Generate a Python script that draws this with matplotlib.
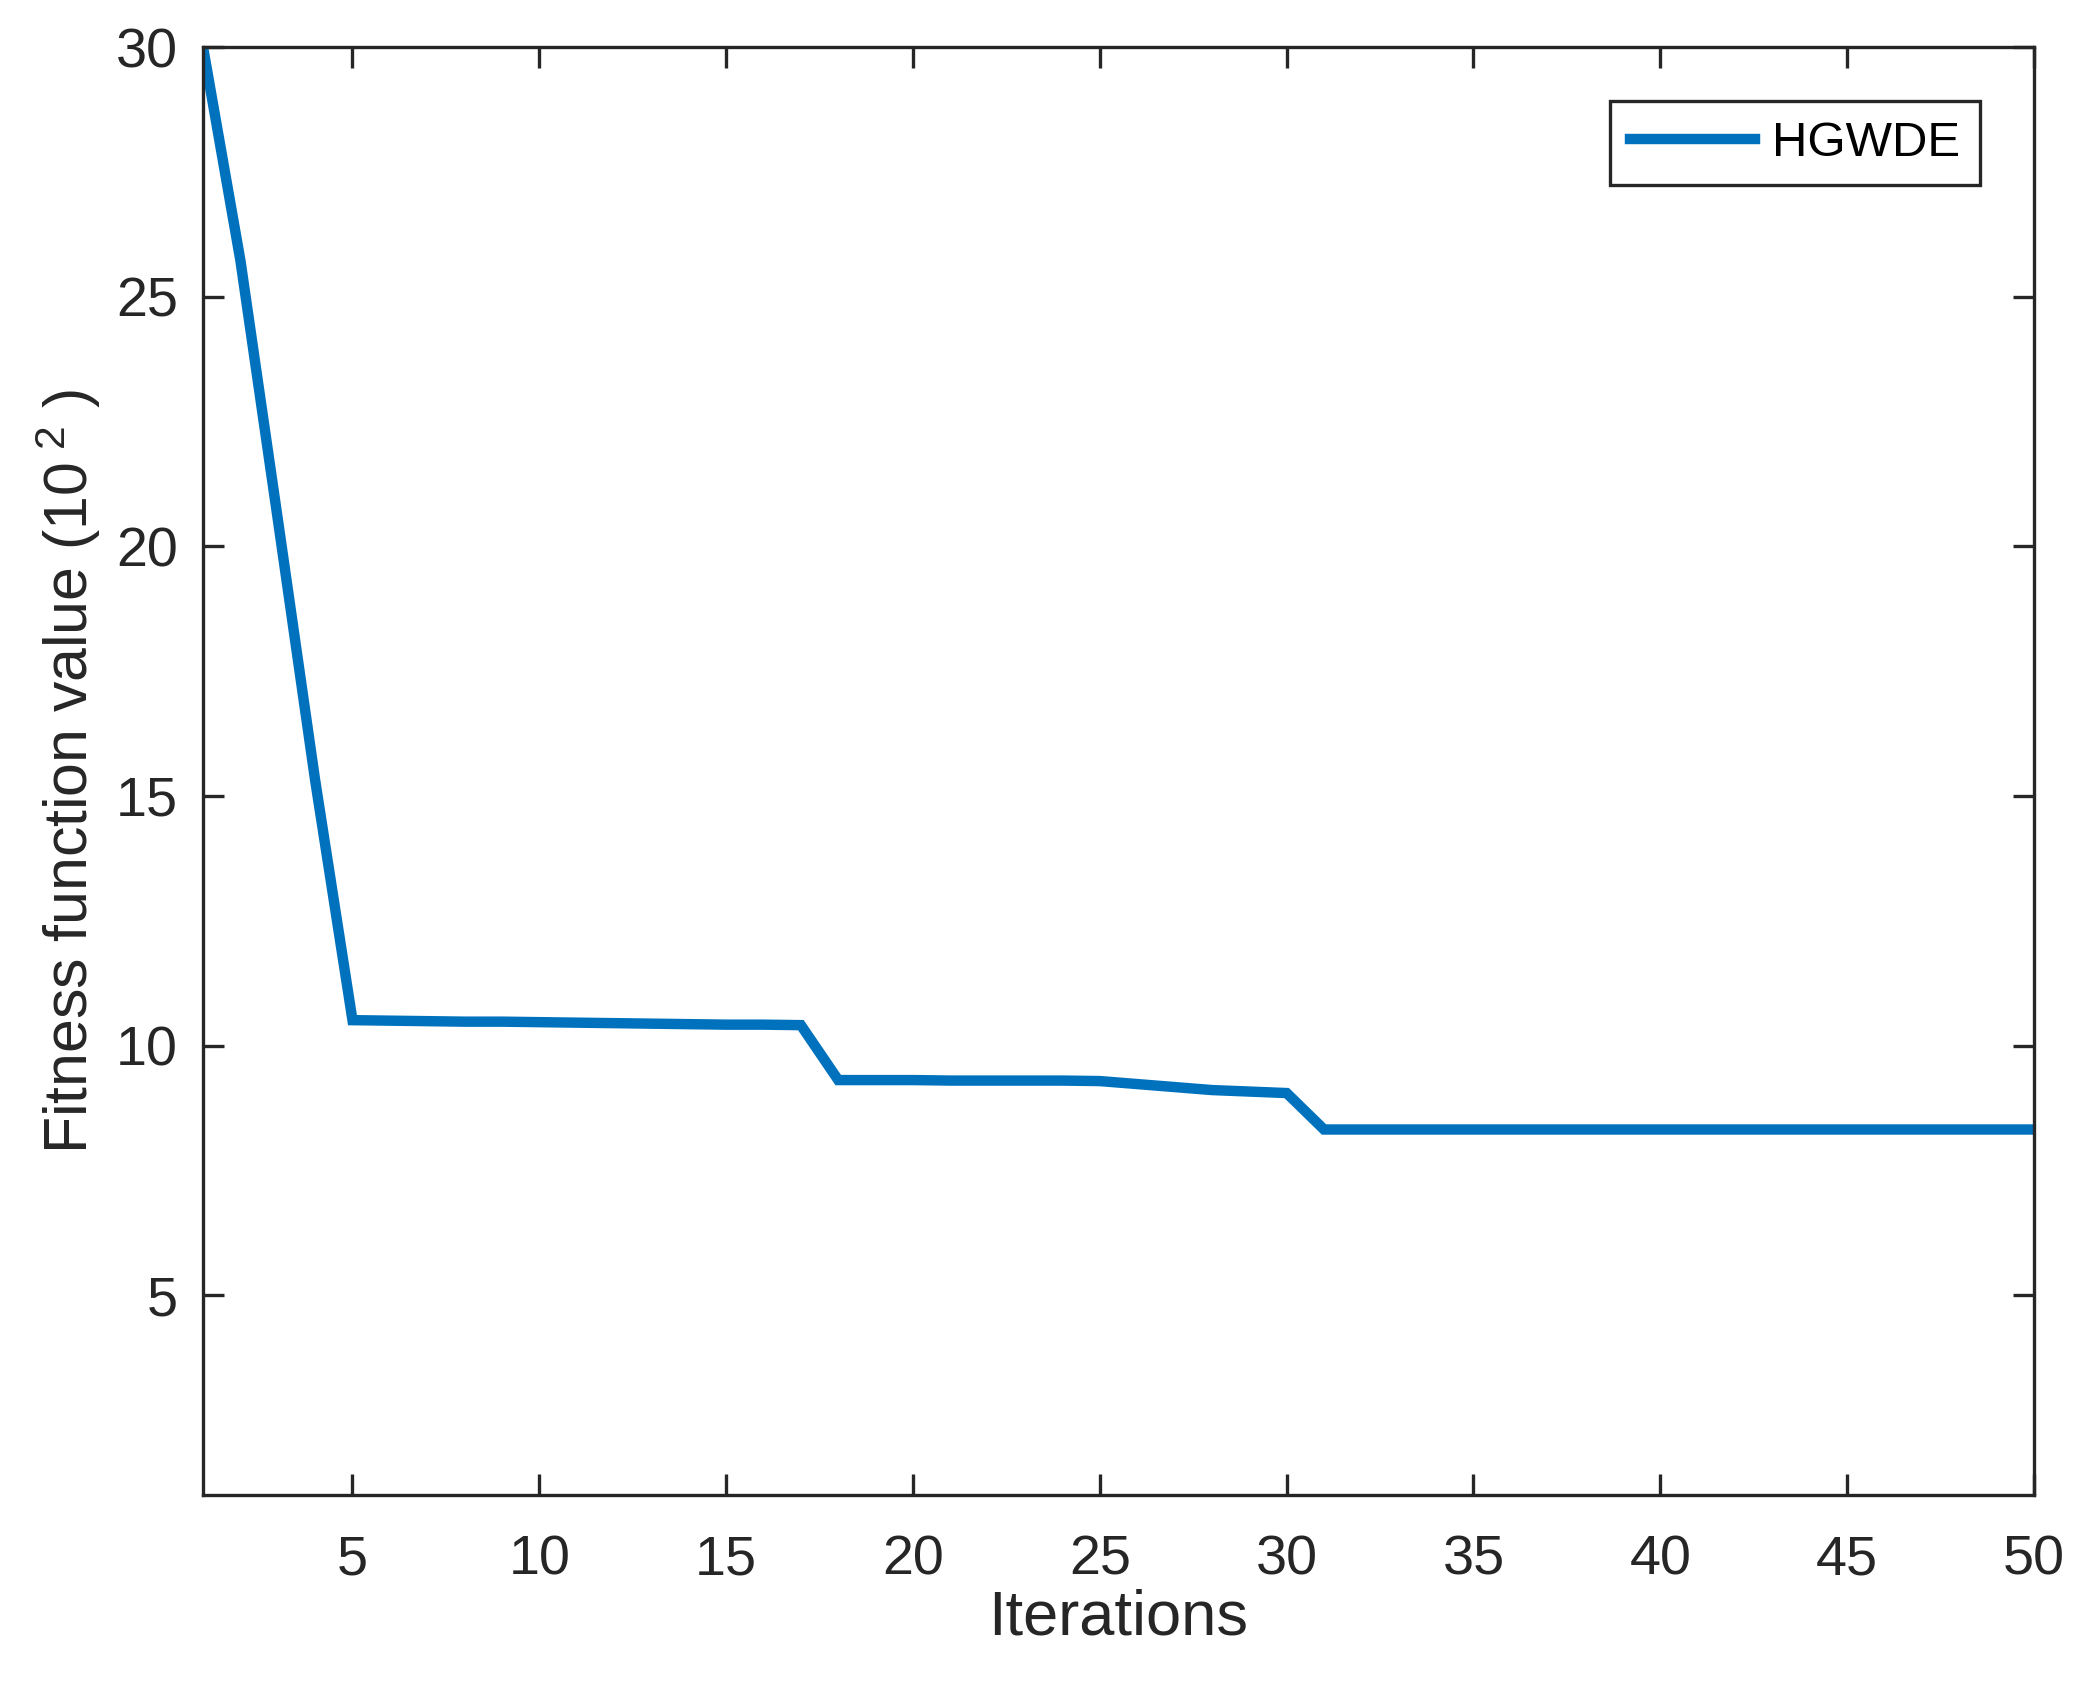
import matplotlib
matplotlib.use("Agg")
import matplotlib.pyplot as plt

iterations = list(range(1, 51))
hgwde = [30.0, 25.73, 20.55, 15.32,
         10.51, 10.50, 10.49, 10.48, 10.48, 10.47, 10.46, 10.45, 10.44, 10.43, 10.42, 10.42, 10.41,
         9.31, 9.31, 9.31, 9.30, 9.30, 9.30, 9.30, 9.29,
         9.23, 9.17, 9.11, 9.08, 9.05] + [8.32] * 20
x_ticks = [5, 10, 15, 20, 25, 30, 35, 40, 45, 50]
y_ticks = [5, 10, 15, 20, 25, 30]
series_label = "HGWDE"

plt.rcParams['font.family'] = ['Liberation Sans', 'DejaVu Sans']
plt.rcParams['mathtext.fontset'] = 'custom'
plt.rcParams['mathtext.rm'] = 'Liberation Sans'
plt.rcParams['mathtext.it'] = 'Liberation Sans'

axc = '#262626'
fig = plt.figure(figsize=(2091/300, 1699/300), dpi=300)
ax = fig.add_axes([203/2091, 1-1495/1699, (2034-203)/2091, (1495-47)/1699])
ax.plot(iterations, hgwde, color='#0072BD', lw=2.5, label=series_label, solid_joinstyle='miter')
ax.set_xlim(1, 50)
ax.set_ylim(1, 30)
ax.set_xticks(x_ticks)
ax.set_yticks(y_ticks)
for s in ax.spines.values():
    s.set_color(axc)
    s.set_linewidth(0.8)
ax.tick_params(direction='in', length=5, width=0.8, color=axc, labelcolor=axc,
               labelsize=13.4, top=True, right=True)
ax.tick_params(axis='x', pad=9.5)
ax.tick_params(axis='y', pad=6)
ax.set_xlabel('Iterations', fontsize=15.2, color=axc, labelpad=0.5)
ax.set_ylabel('Fitness function value (10$^{\\ 2}$$\\ $)', fontsize=14.6, color=axc, labelpad=3)
leg = ax.legend(loc='upper right', fontsize=11.8, handlelength=2.55, handletextpad=0.35,
                borderaxespad=1.1, fancybox=False, framealpha=1, borderpad=0.4)
leg.get_frame().set_edgecolor(axc)
leg.get_frame().set_linewidth(0.8)
fig.savefig('out.png', dpi=300)
